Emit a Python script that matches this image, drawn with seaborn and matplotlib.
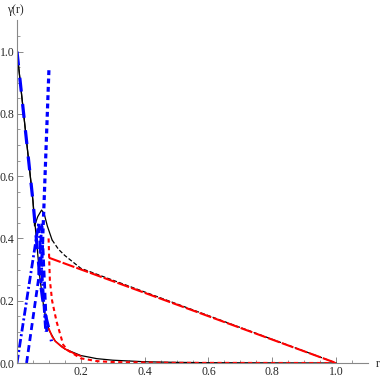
import numpy as np
import pandas as pd
import matplotlib
matplotlib.use("Agg")
import matplotlib.pyplot as plt
import seaborn as sns

# ---- data ----
a_r = [0, 0.05, 0.072, 0.085, 0.1, 0.12, 0.15, 0.2, 0.25, 0.3, 0.4, 0.5, 0.6, 1.0]
a_g = [1.0, 0.52, 0.27, 0.17, 0.106, 0.07, 0.045, 0.024, 0.014, 0.009, 0.004, 0.002, 0.001, 0.0]

b1_r = [0.0, 0.05, 0.055, 0.065, 0.077, 0.085, 0.095, 0.11]
b1_g = [1.0, 0.52, 0.44, 0.47, 0.491, 0.48, 0.44, 0.395]
b2_r = [0.11, 0.13, 0.15, 0.2, 0.3, 0.4, 1.0]
b2_g = [0.395, 0.365, 0.345, 0.304, 0.266, 0.228, 0.0]

red_line_r = [0.1, 1.0]
red_line_g = [0.338, 0.0]

red_dash_r = [0.099, 0.101, 0.103, 0.11, 0.124, 0.145, 0.16, 0.2, 0.25, 0.3, 0.5, 1.0]
red_dash_g = [0.40, 0.33, 0.266, 0.2, 0.133, 0.058, 0.04, 0.015, 0.006, 0.003, 0.0005, 0.0]

red_solid_r = [0.1, 0.11, 0.12, 0.14, 0.156, 0.18, 0.2]
red_solid_g = [0.11, 0.085, 0.07, 0.052, 0.042, 0.03, 0.022]

blue_long_r = [0.0, 0.05, 0.072, 0.085, 0.1, 0.108]
blue_long_g = [1.0, 0.52, 0.27, 0.17, 0.11, 0.07]

blue_tall_r = [0.1, 0.085, 0.075]
blue_tall_g = [0.94, 0.52, 0.25]

blue_dd_r = [0.0, 0.04, 0.068, 0.09]
blue_dd_g = [0.0, 0.266, 0.45, 0.1]

blue_md_r = [0.03, 0.067, 0.078, 0.093]
blue_md_g = [0.0, 0.266, 0.45, 0.1]

x_ticks = [0.2, 0.4, 0.6, 0.8, 1.0]
y_ticks = [0.0, 0.2, 0.4, 0.6, 0.8, 1.0]

# ---- figure ----
sns.set_theme(style="white")
plt.rcParams["lines.scale_dashes"] = False
plt.rcParams["font.family"] = ["Liberation Serif", "DejaVu Serif"]

fig = plt.figure(figsize=(3.82, 3.80), dpi=100)
ax = fig.add_axes([17/382, 17/380, 351/382, 342.6/380])

def draw(r, g, color, lw, ls):
    df = pd.DataFrame({"r": r, "g": g})
    sns.lineplot(data=df, x="r", y="g", ax=ax, color=color, lw=lw,
                 linestyle=ls, sort=False, estimator=None, legend=False)

draw(a_r, a_g, "black", 0.9, "-")
draw(b1_r, b1_g, "black", 0.9, "-")
draw(b2_r, b2_g, "black", 0.9, (0, (3, 1.5)))
draw(red_line_r, red_line_g, "#ff0000", 1.5, (0, (9, 1.5)))
draw(red_dash_r, red_dash_g, "#ff0000", 1.5, (0, (3, 2.5)))
draw(red_solid_r, red_solid_g, "#ff0000", 1.2, "-")
draw(blue_long_r, blue_long_g, "#0000ff", 2.3, (0, (10, 9)))
draw(blue_tall_r, blue_tall_g, "#0000ff", 2.3, (0, (3.5, 2.5)))
draw(blue_dd_r, blue_dd_g, "#0000ff", 2.0, (0, (6, 2, 1.5, 2)))
draw(blue_md_r, blue_md_g, "#0000ff", 2.0, (0, (5, 3)))

ax.set_xlim(0, 1.1)
ax.set_ylim(0, 1.1)
ax.set_xlabel("")
ax.set_ylabel("")
for s in ["top", "right"]:
    ax.spines[s].set_visible(False)
for s in ["left", "bottom"]:
    ax.spines[s].set_color("#888888")
    ax.spines[s].set_linewidth(0.8)
ax.set_xticks(x_ticks)
ax.set_yticks(y_ticks)
ax.set_xticklabels([f"{v:.1f}" for v in x_ticks])
ax.set_yticklabels([f"{v:.1f}" for v in y_ticks])
ax.set_xticks(np.arange(0.05, 1.1, 0.05), minor=True)
ax.set_yticks(np.arange(0.05, 1.1, 0.05), minor=True)
ax.tick_params(which="both", direction="in", color="#888888", labelsize=8.5,
               left=True, bottom=True, pad=2)
ax.tick_params(which="major", length=4, width=0.7)
ax.tick_params(which="minor", length=2, width=0.6)
ax.patch.set_alpha(0)

fig.text(15/382, 1 - 10/380, "γ(r)", fontsize=8.5, ha="center", va="center")
fig.text(378/382, 1 - 364/380, "r", fontsize=8.5, ha="center", va="center")

fig.savefig("out.png", dpi=100)
